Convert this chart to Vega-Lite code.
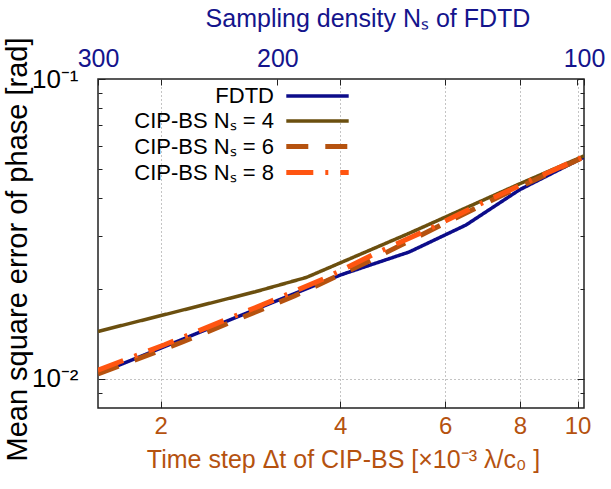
{
  "$schema": "https://vega.github.io/schema/vega-lite/v6.json",
  "width": 486,
  "height": 329,
  "autosize": {"type": "none"},
  "padding": {"left": 98, "top": 79, "right": 27, "bottom": 81},
  "background": "white",
  "title": {"text": "Sampling density Nₛ of FDTD", "frame": "group", "anchor": "middle", "orient": "top", "offset": 13, "dy": 28, "dx": 27, "baseline": "alphabetic", "color": "#14148c", "font": "Liberation Sans", "fontSize": 25, "fontWeight": "normal"},
  "config": {
    "font": "Liberation Sans",
    "view": {"stroke": "#222", "strokeWidth": 1.5},
    "axis": {"domain": false, "labelFont": "Liberation Sans", "titleFont": "Liberation Sans", "labelFontSize": 24, "titleFontSize": 24, "titleFontWeight": "normal", "labelOverlap": false, "labelFlush": false, "tickColor": "#222", "tickWidth": 1},
    "legend": {"orient": "none", "legendX": 205, "legendY": 3, "labelAlign": "right", "labelOffset": -58, "symbolSize": 576, "rowPadding": 0, "labelFontSize": 22, "labelFont": "Liberation Sans", "labelColor": "black", "padding": 0, "symbolType": "M-2.6,0H2.6", "labelLimit": 300}
  },
  "layer": [
    {
      "data": {"values": [
        {"series": "FDTD", "dt": 1.57, "v": 0.0104},
        {"series": "FDTD", "dt": 2.874, "v": 0.0170},
        {"series": "FDTD", "dt": 4.0, "v": 0.0222},
        {"series": "FDTD", "dt": 5.22, "v": 0.0265},
        {"series": "FDTD", "dt": 6.5, "v": 0.0326},
        {"series": "FDTD", "dt": 7.99, "v": 0.0427},
        {"series": "FDTD", "dt": 9.79, "v": 0.0524},
        {"series": "FDTD", "dt": 10.25, "v": 0.0549},
        {"series": "CIP-BS Nₛ = 4", "dt": 1.57, "v": 0.0144},
        {"series": "CIP-BS Nₛ = 4", "dt": 2.874, "v": 0.0195},
        {"series": "CIP-BS Nₛ = 4", "dt": 3.51, "v": 0.0218},
        {"series": "CIP-BS Nₛ = 4", "dt": 5.22, "v": 0.0306},
        {"series": "CIP-BS Nₛ = 4", "dt": 7.99, "v": 0.0447},
        {"series": "CIP-BS Nₛ = 4", "dt": 10.25, "v": 0.0554},
        {"series": "CIP-BS Nₛ = 6", "dt": 1.57, "v": 0.0104},
        {"series": "CIP-BS Nₛ = 6", "dt": 2.18, "v": 0.0133},
        {"series": "CIP-BS Nₛ = 6", "dt": 3.35, "v": 0.0189},
        {"series": "CIP-BS Nₛ = 6", "dt": 4.43, "v": 0.0245},
        {"series": "CIP-BS Nₛ = 6", "dt": 5.87, "v": 0.0324},
        {"series": "CIP-BS Nₛ = 6", "dt": 7.69, "v": 0.0421},
        {"series": "CIP-BS Nₛ = 6", "dt": 10.25, "v": 0.0550},
        {"series": "CIP-BS Nₛ = 8", "dt": 1.57, "v": 0.0107},
        {"series": "CIP-BS Nₛ = 8", "dt": 2.03, "v": 0.0130},
        {"series": "CIP-BS Nₛ = 8", "dt": 3.05, "v": 0.0181},
        {"series": "CIP-BS Nₛ = 8", "dt": 3.78, "v": 0.0217},
        {"series": "CIP-BS Nₛ = 8", "dt": 4.58, "v": 0.0262},
        {"series": "CIP-BS Nₛ = 8", "dt": 5.60, "v": 0.0314},
        {"series": "CIP-BS Nₛ = 8", "dt": 6.80, "v": 0.0380},
        {"series": "CIP-BS Nₛ = 8", "dt": 8.36, "v": 0.0460},
        {"series": "CIP-BS Nₛ = 8", "dt": 10.25, "v": 0.0552}
      ]},
      "mark": {"type": "line", "clip": true, "strokeCap": "butt"},
      "encoding": {
        "x": {"field": "dt", "type": "quantitative",
          "scale": {"type": "log", "domain": [1.57, 10.25], "nice": false, "zero": false},
          "axis": {"orient": "bottom", "values": [2, 4, 6, 8, 10], "format": "d", "title": "Time step  Δt  of CIP-BS [×10⁻³  λ/c₀  ]", "labelColor": "#b5520f", "titleColor": "#b5520f", "tickSize": -7, "labelPadding": 13, "grid": true, "gridDash": [1, 3], "gridColor": "#888",
            "titleFontSize": 25, "titleX": 245, "titleY": 59, "titleBaseline": "alphabetic", "titleAlign": "center"}},
        "y": {"field": "v", "type": "quantitative",
          "scale": {"type": "log", "domain": [0.008, 0.1], "nice": false, "zero": false},
          "axis": {"orient": "left", "values": [0.009, 0.01, 0.02, 0.03, 0.04, 0.05, 0.06, 0.07, 0.08, 0.09, 0.1],
            "labelExpr": "abs(datum.value-0.01)<1e-9 ? '10⁻²' : abs(datum.value-0.1)<1e-9 ? '10⁻¹' : ''",
            "labelFontSize": 26,
            "title": "Mean square error of phase [rad]", "titleColor": "black", "labelColor": "black",
            "titleFontSize": 29, "titleX": -72, "titleY": 170, "titleBaseline": "alphabetic", "titleAlign": "center", "titleAngle": -90,
            "tickSize": {"condition": {"test": "abs(datum.value-0.01)<1e-9 || abs(datum.value-0.1)<1e-9", "value": -7}, "value": -4},
            "labelPadding": 27, "grid": true, "gridDash": [1, 3], "gridColor": "#888",
            "gridOpacity": {"condition": {"test": "abs(datum.value-0.01)<1e-9", "value": 1}, "value": 0}}},
        "color": {"field": "series", "type": "nominal",
          "scale": {"domain": ["FDTD", "CIP-BS Nₛ = 4", "CIP-BS Nₛ = 6", "CIP-BS Nₛ = 8"], "range": ["#0c0c8a", "#6b4f0f", "#b5520f", "#ff5511"]},
          "legend": {"title": null}},
        "strokeDash": {"field": "series", "type": "nominal",
          "scale": {"domain": ["FDTD", "CIP-BS Nₛ = 4", "CIP-BS Nₛ = 6", "CIP-BS Nₛ = 8"], "range": [[1, 0], [1, 0], [22, 17], [27, 12, 3, 12]]},
          "legend": {"title": null}},
        "strokeWidth": {"field": "series", "type": "nominal",
          "scale": {"type": "ordinal", "domain": ["FDTD", "CIP-BS Nₛ = 4", "CIP-BS Nₛ = 6", "CIP-BS Nₛ = 8"], "range": [3.5, 3.5, 5, 5]},
          "legend": {"title": null}}
      }
    },
    {
      "data": {"values": [{"N": 300, "v": 0.01}, {"N": 100, "v": 0.01}]},
      "mark": {"type": "point", "opacity": 0},
      "encoding": {
        "x": {"field": "N", "type": "quantitative",
          "scale": {"type": "log", "domain": [100, 300], "reverse": true, "nice": false, "zero": false},
          "axis": {"orient": "top", "values": [300, 260.4, 200, 173.5, 136.9, 115.6, 101.5, 100],
            "labelExpr": "datum.value == 300 ? '300' : datum.value == 200 ? '200' : datum.value == 100 ? '100' : ''",
            "labelFontSize": 25,
            "title": null, "labelColor": "#14148c", "tickSize": -6, "labelPadding": 14, "grid": false}},
        "y": {"field": "v", "type": "quantitative",
          "axis": {"orient": "right", "values": [0.009, 0.01, 0.02, 0.03, 0.04, 0.05, 0.06, 0.07, 0.08, 0.09, 0.1], "labels": false, "title": null, "grid": false,
            "tickSize": {"condition": {"test": "abs(datum.value-0.01)<1e-9 || abs(datum.value-0.1)<1e-9", "value": -7}, "value": -4}}}
      }
    }
  ],
  "resolve": {"scale": {"x": "independent"}, "axis": {"x": "independent", "y": "independent"}}
}
